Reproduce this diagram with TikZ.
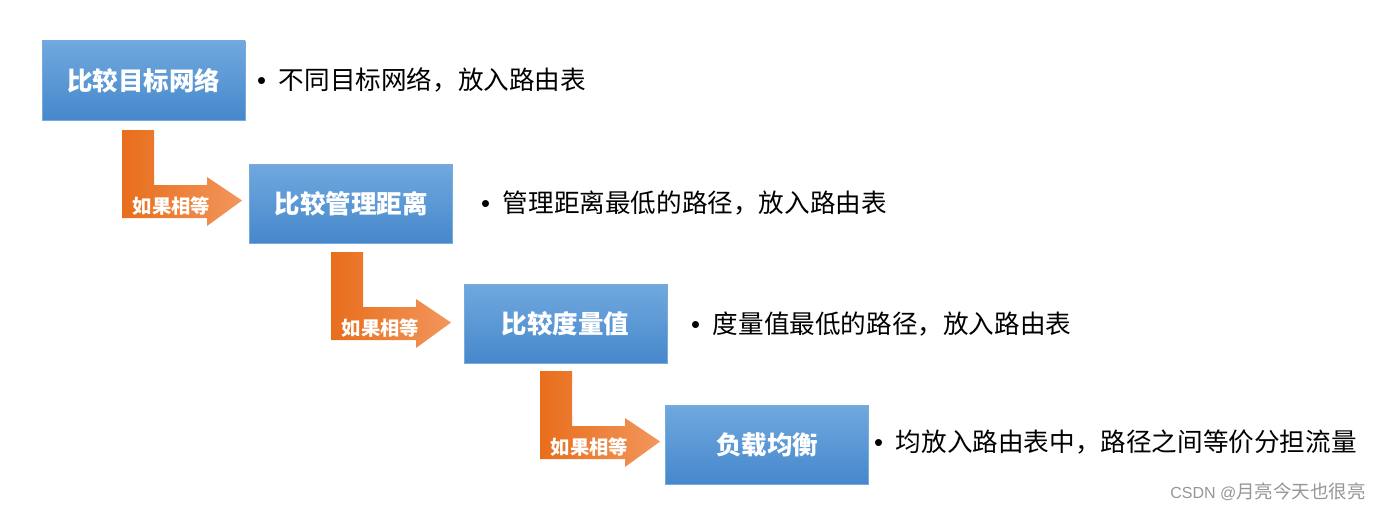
\documentclass[tikz,border=0pt]{standalone}
\usepackage{fontspec}
\setmainfont{Noto Sans CJK SC}
\newfontfamily\latin{Liberation Sans}
\definecolor{boxtop}{RGB}{112,168,222}
\definecolor{boxbot}{RGB}{70,136,204}
\definecolor{boxline}{RGB}{120,170,220}
\definecolor{arrL}{RGB}{232,110,28}
\definecolor{arrR}{RGB}{242,150,92}
\definecolor{wm}{RGB}{150,150,150}
\tikzset{
  box/.style={rectangle, top color=boxtop, bottom color=boxbot, draw=boxline, line width=0.6pt,
    minimum width=203pt, minimum height=79pt, inner sep=0pt, text=white,
    font=\fontsize{25.5}{28}\selectfont\bfseries},
  bul/.style={anchor=west, inner sep=0pt, text=black, font=\fontsize{25.6}{28}\selectfont},
  lab/.style={inner sep=0pt, text=white, font=\fontsize{19.3}{20}\selectfont\bfseries},
  turn/.style={left color=arrL, right color=arrR},
  wmark/.style={anchor=east, inner sep=0pt, text=wm, font=\fontsize{18.5}{20}\selectfont}
}
\newcommand{\bendarrow}[2]{%
  \shade[turn] (#1,#2) -- ++(32,0) -- ++(0,55) -- ++(53,0) -- ++(0,-8) -- ++(35,23.5)
    -- ++(-35,25.5) -- ++(0,-8) -- ++(-85,0) -- cycle;}
\newcommand{\bul}{{\latin\textbullet}\hspace{0.5em}}
\begin{document}
\begin{tikzpicture}[x=1pt,y=-1pt]
\useasboundingbox (0,0) rectangle (1380,511);
\fill[white] (0,0) rectangle (1380,511);
% arrows
\bendarrow{122}{130}
\bendarrow{331}{252}
\bendarrow{540}{371}
\node[lab] (l1) at (171.5,206) {如果相等};
\node[lab] (l2) at (380.5,328) {如果相等};
\node[lab] (l3) at (589.5,447) {如果相等};
% boxes
\node[box] (b1) at (143.5,80.5) {比较目标网络};
\node[box] (b2) at (351,204) {比较管理距离};
\node[box] (b3) at (565.5,324) {比较度量值};
\node[box] (b4) at (767,444.5) {负载均衡};
% bullet texts
\node[bul] (t1) at (257,80) {\bul 不同目标网络，放入路由表};
\node[bul] (t2) at (481,203) {\bul 管理距离最低的路径，放入路由表};
\node[bul] (t3) at (691,324) {\bul 度量值最低的路径，放入路由表};
\node[bul] (t4) at (874,442) {\bul 均放入路由表中，路径之间等价分担流量};
% watermark
\node[wmark] (wm) at (1366,492) {{\latin\fontsize{16}{18}\selectfont CSDN @}月亮今天也很亮};
\end{tikzpicture}
\end{document}
